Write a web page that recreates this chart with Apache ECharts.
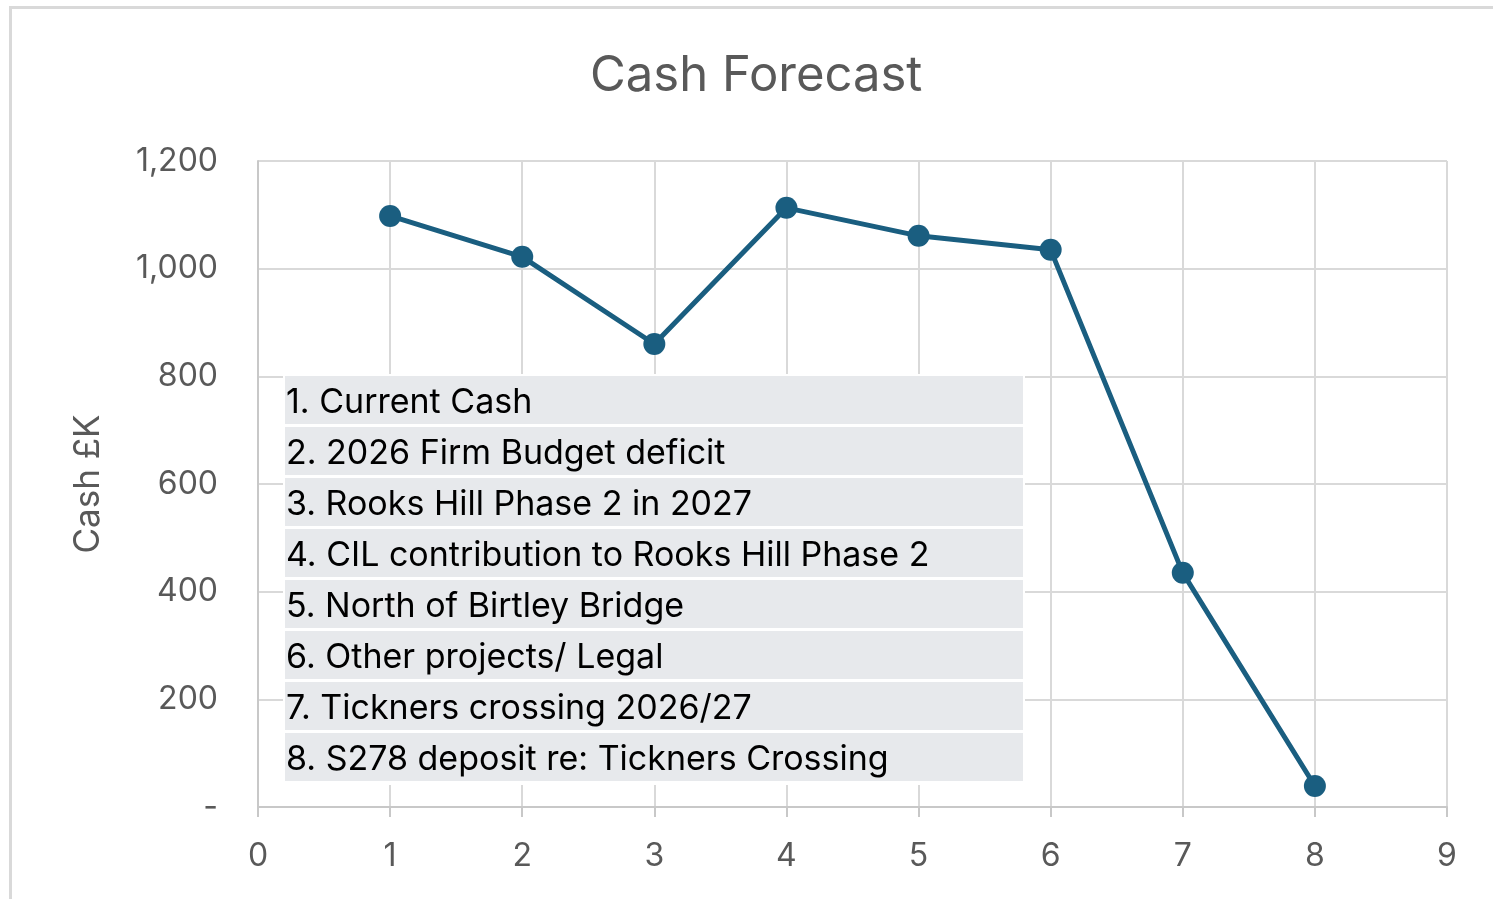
<!DOCTYPE html>
<html lang="en">
<head>
    <meta charset="UTF-8">
    <title>Cash Forecast</title>
    <script src="https://cdn.jsdelivr.net/npm/echarts@6/dist/echarts.min.js"></script>
    <style>
        body {
            margin: 0;
            background-color: #FFFFFF;
            overflow: hidden;
        }
        #frame {
            position: absolute;
            left: 9px;
            top: 6px;
            width: 1500px;
            height: 910px;
            border-left: 3px solid #D9D9D9;
            border-top: 3px solid #D9D9D9;
        }
        #chart {
            position: absolute;
            left: 0;
            top: 0;
            width: 1493px;
            height: 899px;
        }
    </style>
</head>
<body>
    <div id="frame"></div>
    <div id="chart"></div>

    <script>
        // Data
        const steps = [1, 2, 3, 4, 5, 6, 7, 8];
        const cash = [1098, 1022, 860, 1113, 1061, 1035, 435, 39];
        const notes = [
            '1. Current Cash',
            '2. 2026 Firm Budget deficit',
            '3. Rooks Hill Phase 2 in 2027',
            '4. CIL contribution to Rooks Hill Phase 2',
            '5. North of Birtley Bridge',
            '6. Other projects/ Legal',
            '7. Tickners crossing 2026/27',
            '8. S278 deposit re: Tickners Crossing'
        ];

        const fontName = 'Inter, "Open Sans", sans-serif';
        const grey = '#595959';

        // Text box laid over the plot
        function buildNotesBox() {
            const boxLeft = 283, boxTop = 374, rowH = 51;
            const items = [{
                type: 'rect',
                z: 100,
                shape: { x: boxLeft, y: boxTop, width: 742, height: notes.length * rowH + 3 },
                style: { fill: '#FFFFFF' }
            }];
            notes.forEach((txt, i) => {
                const y = boxTop + 2 + i * rowH;
                items.push({
                    type: 'rect',
                    z: 101,
                    shape: { x: boxLeft + 2, y: y, width: 738, height: rowH - 3 },
                    style: { fill: '#E7E9EC' }
                });
                items.push({
                    type: 'text',
                    z: 102,
                    x: boxLeft + 3,
                    y: y + (rowH - 3) / 2 + 3,
                    style: {
                        text: txt,
                        fill: '#000000',
                        font: '34px ' + fontName,
                        verticalAlign: 'middle'
                    }
                });
            });
            return items;
        }

        const chart = echarts.init(document.getElementById('chart'));
        chart.setOption({
            animation: false,
            title: {
                text: 'Cash Forecast',
                left: 585,
                top: 47,
                textStyle: { color: grey, fontSize: 49, fontWeight: 'normal', fontFamily: fontName }
            },
            grid: { left: 258, right: 46, top: 161, bottom: 92 },
            xAxis: {
                type: 'value',
                min: 0,
                max: 9,
                interval: 1,
                axisLine: { show: true, lineStyle: { color: '#C8C8C8', width: 2 } },
                axisTick: { show: true, length: 10, lineStyle: { color: '#C8C8C8', width: 2 } },
                splitLine: { show: true, lineStyle: { color: '#D9D9D9', width: 2 } },
                axisLabel: { color: grey, fontSize: 32, margin: 33, fontFamily: fontName }
            },
            yAxis: {
                type: 'value',
                min: 0,
                max: 1200,
                interval: 200,
                name: 'Cash £K',
                nameLocation: 'middle',
                nameGap: 152,
                nameTextStyle: { color: grey, fontSize: 35, fontFamily: fontName },
                axisLine: { show: true, lineStyle: { color: '#C8C8C8', width: 2 } },
                axisTick: { show: false },
                splitLine: { show: true, lineStyle: { color: '#D9D9D9', width: 2 } },
                axisLabel: {
                    color: grey,
                    fontSize: 32,
                    margin: 40,
                    fontFamily: fontName,
                    formatter: v => v === 0 ? '-' : v.toLocaleString('en-GB')
                }
            },
            series: [{
                type: 'line',
                data: steps.map((s, i) => [s, cash[i]]),
                symbol: 'circle',
                symbolSize: 22,
                lineStyle: { color: '#1A5E80', width: 5 },
                itemStyle: { color: '#1A5E80' },
                z: 3
            }],
            graphic: buildNotesBox()
        });
    </script>
</body>
</html>
